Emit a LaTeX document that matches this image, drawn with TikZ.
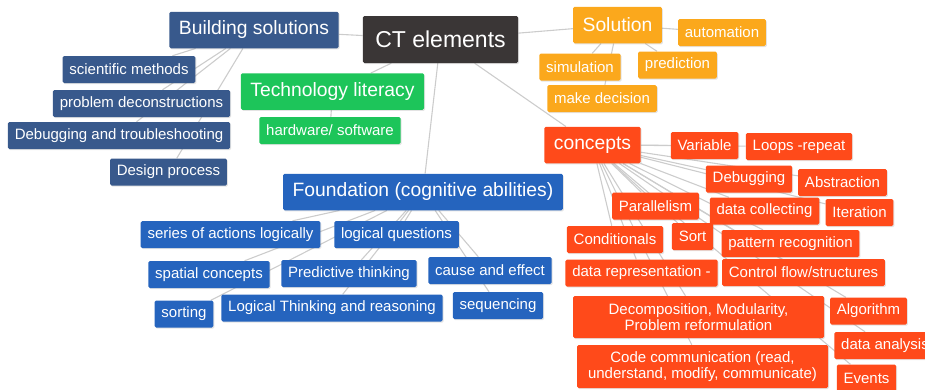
\documentclass[tikz,border=0pt]{standalone}
\usepackage{fontspec}
\setmainfont{Liberation Sans}
\usetikzlibrary{shadows,backgrounds}

\definecolor{ctdark}{RGB}{58,54,54}
\definecolor{buildblue}{RGB}{56,89,140}
\definecolor{foundblue}{RGB}{37,100,190}
\definecolor{techgreen}{RGB}{29,197,90}
\definecolor{solorange}{RGB}{251,168,28}
\definecolor{concred}{RGB}{255,74,26}

\tikzset{
  box/.style={rounded corners=1.5pt, text=white, inner ysep=0pt,
    drop shadow={opacity=0.22, shadow xshift=1pt, shadow yshift=-1.2pt}},
  rootbox/.style={box, fill=ctdark, font=\fontsize{23}{24}\selectfont,
    inner xsep=12.5pt, minimum height=47pt},
  branch/.style={box, font=\fontsize{19.3}{20}\selectfont,
    inner xsep=9.5pt, minimum height=36.5pt},
  leaf/.style={box, font=\fontsize{15}{15.3}\selectfont,
    inner xsep=6.8pt, minimum height=27pt},
  link/.style={draw=black!20, line width=1.1pt}
}

\begin{document}
\begin{tikzpicture}[x=1pt,y=-1pt]
\useasboundingbox (0,0) rectangle (925,389);

% root
\node[rootbox] (ct) at (440.5,39.5) {CT elements};

% Building solutions
\node[branch, fill=buildblue] (build) at (254,30) {Building solutions};
\node[leaf, fill=buildblue] (sci) at (129,69.5) {scientific methods};
\node[leaf, fill=buildblue] (prob) at (141.5,103.5) {problem deconstructions};
\node[leaf, fill=buildblue] (debugT) at (119,135.5) {Debugging and troubleshooting};
\node[leaf, fill=buildblue] (design) at (168.5,172) {Design process};

% Technology literacy
\node[branch, fill=techgreen] (tech) at (332.5,91.5) {Technology literacy};
\node[leaf, fill=techgreen] (hw) at (330,130.5) {hardware/ software};

% Foundation
\node[branch, fill=foundblue] (found) at (423,192) {Foundation (cognitive abilities)};
\node[leaf, fill=foundblue] (series) at (230.5,234.5) {series of actions logically};
\node[leaf, fill=foundblue] (logq) at (396.5,234.5) {logical questions};
\node[leaf, fill=foundblue] (spatial) at (209,274.5) {spatial concepts};
\node[leaf, fill=foundblue] (pred) at (349,273.5) {Predictive thinking};
\node[leaf, fill=foundblue] (cause) at (490,270.5) {cause and effect};
\node[leaf, fill=foundblue] (sorting) at (184,314) {sorting};
\node[leaf, fill=foundblue] (logT) at (332,308) {Logical Thinking and reasoning};
\node[leaf, fill=foundblue] (seq) at (498,305.5) {sequencing};

% Solution
\node[branch, fill=solorange] (sol) at (617.5,25) {Solution};
\node[leaf, fill=solorange] (auto) at (722,32.5) {automation};
\node[leaf, fill=solorange] (sim) at (580,67) {simulation};
\node[leaf, fill=solorange] (predic) at (677.5,65) {prediction};
\node[leaf, fill=solorange] (makedec) at (602,98.5) {make decision};

% concepts
\node[branch, fill=concred] (conc) at (592.5,145) {concepts};
\node[leaf, fill=concred] (var) at (704.5,145.5) {Variable};
\node[leaf, fill=concred] (loops) at (799,146.5) {Loops -repeat};
\node[leaf, fill=concred] (debug) at (749,179) {Debugging};
\node[leaf, fill=concred] (abs) at (842.5,182.5) {Abstraction};
\node[leaf, fill=concred] (par) at (655.5,206) {Parallelism};
\node[leaf, fill=concred] (datacol) at (764.5,211) {data collecting};
\node[leaf, fill=concred] (iter) at (859.5,212.5) {Iteration};
\node[leaf, fill=concred] (cond) at (615,239.5) {Conditionals};
\node[leaf, fill=concred] (sort) at (692.5,236.5) {Sort};
\node[leaf, fill=concred] (pattern) at (790.5,243.5) {pattern recognition};
\node[leaf, fill=concred] (datarep) at (641.5,273) {data representation -};
\node[leaf, fill=concred] (control) at (803.5,272.5) {Control flow/structures};
\node[leaf, fill=concred, minimum width=251pt, minimum height=42pt, align=center]
  (decomp) at (698.5,317) {Decomposition, Modularity,\\Problem reformulation};
\node[leaf, fill=concred] (algo) at (868.5,311) {Algorithm};
\node[leaf, fill=concred] (dataan) at (885,345.5) {data analysis};
\node[leaf, fill=concred, minimum width=251pt, minimum height=43pt, align=center]
  (code) at (702.5,366.5) {Code communication (read,\\understand, modify, communicate)};
\node[leaf, fill=concred] (events) at (866.5,378) {Events};

% connectors
\begin{scope}[on background layer]
  \foreach \b in {build,tech,found,sol,conc}
    \draw[link] (ct) -- (\b);
  \foreach \c in {sci,prob,debugT,design}
    \draw[link] (build) -- (\c);
  \draw[link] (tech) -- (hw);
  \foreach \c in {series,logq,spatial,pred,cause,sorting,logT,seq}
    \draw[link] (found) -- (\c);
  \foreach \c in {auto,sim,predic,makedec}
    \draw[link] (sol) -- (\c);
  \foreach \c in {var,loops,debug,abs,par,datacol,iter,cond,sort,pattern,
      datarep,control,decomp,algo,dataan,code,events}
    \draw[link] (conc) -- (\c);
\end{scope}
\end{tikzpicture}
\end{document}
